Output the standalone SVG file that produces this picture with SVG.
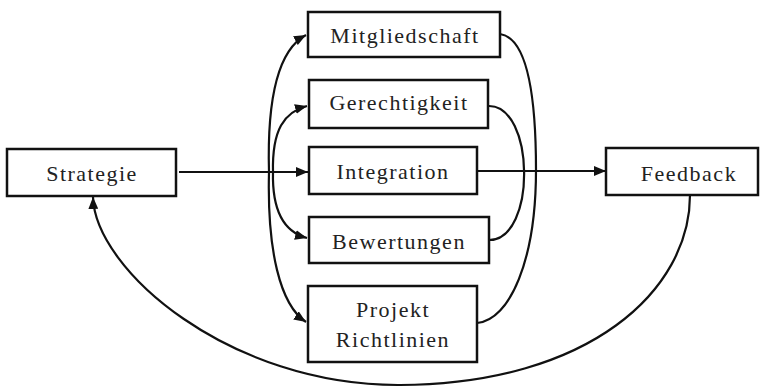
<svg xmlns="http://www.w3.org/2000/svg" width="767" height="388" viewBox="0 0 767 388">
  <defs>
    <marker id="arrow" viewBox="0 0 12 10" refX="12" refY="5" markerWidth="12" markerHeight="10" markerUnits="userSpaceOnUse" orient="auto">
      <path d="M0,0 L12,5 L0,10 Z" fill="#111"/>
    </marker>
    <style>
      .box { fill: #fff; stroke: #111; stroke-width: 2.5; }
      .lbl { font-size: 22px; letter-spacing: 1.5px; fill: #222; text-anchor: middle; }
      .edge { fill: none; stroke: #111; stroke-width: 2.2; }
    </style>
  </defs>
  <rect width="767" height="388" fill="#fff"/>

  <g id="connectors">
    <!-- Strategie to Integration -->
    <path class="edge" d="M179,172 L308,172" marker-end="url(#arrow)"/>
    <!-- Integration to Feedback -->
    <path class="edge" d="M471,171 L606,171" marker-end="url(#arrow)"/>
    <!-- fan out to the four topic boxes -->
    <path class="edge" d="M269,172 C267,100 278,50 306,35" marker-end="url(#arrow)"/>
    <path class="edge" d="M273,172 C272,130 284,112 307,106" marker-end="url(#arrow)"/>
    <path class="edge" d="M273,172 C272,212 284,232 307,238" marker-end="url(#arrow)"/>
    <path class="edge" d="M269,172 C267,250 280,305 306,322" marker-end="url(#arrow)"/>
    <!-- right-hand arcs joining the topic boxes -->
    <path class="edge" d="M500,34 C528,38 536,100 536,170 C536,260 510,320 477,323"/>
    <path class="edge" d="M488,106 C535,104 537,240 489,240"/>
    <!-- Feedback back to Strategie -->
    <path class="edge" d="M690,195 C690,290 590,384 400,385 C230,386 95,270 93,197" marker-end="url(#arrow)"/>
  </g>

  <g font-family="'Liberation Serif', 'DejaVu Serif', serif">
    <g id="strategie">
      <rect class="box" x="7" y="149" width="169" height="47"/>
      <text class="lbl" x="92" y="181">Strategie</text>
    </g>
    <g id="mitgliedschaft">
      <rect class="box" x="308" y="12" width="192" height="45"/>
      <text class="lbl" x="405" y="43">Mitgliedschaft</text>
    </g>
    <g id="gerechtigkeit">
      <rect class="box" x="309" y="80" width="179" height="48"/>
      <text class="lbl" x="399" y="110">Gerechtigkeit</text>
    </g>
    <g id="integration">
      <rect class="box" x="309" y="147" width="168" height="47"/>
      <text class="lbl" x="393" y="179">Integration</text>
    </g>
    <g id="bewertungen">
      <rect class="box" x="309" y="217" width="180" height="46"/>
      <text class="lbl" x="399" y="249">Bewertungen</text>
    </g>
    <g id="projekt-richtlinien">
      <rect class="box" x="308" y="286" width="169" height="76"/>
      <text class="lbl" x="393" y="317">Projekt</text>
      <text class="lbl" x="393" y="347">Richtlinien</text>
    </g>
    <g id="feedback">
      <rect class="box" x="606" y="148" width="152" height="47"/>
      <text class="lbl" x="689" y="181">Feedback</text>
    </g>
  </g>
</svg>
